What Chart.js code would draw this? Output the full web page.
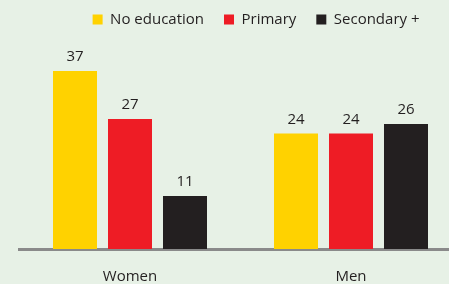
<!DOCTYPE html>
<html>
<head>
<meta charset="utf-8">
<script src="https://cdn.jsdelivr.net/npm/chart.js@4/dist/chart.umd.min.js"></script>
<style>
  html, body { margin: 0; padding: 0; background: #e7f1e6; overflow: hidden; width: 449px; height: 284px; }
  #wrap { width: 462px; height: 297px; position: relative; }
</style>
</head>
<body>
<div id="wrap"><canvas id="c" width="462" height="297"></canvas></div>
<script>
const categories = ['Women', 'Men'];
const seriesNames = ['No education', 'Primary', 'Secondary +'];
const noEducation = [37, 24];
const primary = [27, 24];
const secondaryPlus = [11, 26];
const colors = ['#ffd200', '#ee1c25', '#231f20'];

const textColor = '#231f20';
const fontFamily = '"Open Sans", sans-serif';

const valueLabels = {
  id: 'valueLabels',
  afterDatasetsDraw(chart) {
    const ctx = chart.ctx;
    ctx.save();
    ctx.font = '15px ' + fontFamily;
    ctx.fillStyle = textColor;
    ctx.textAlign = 'center';
    ctx.textBaseline = 'middle';
    chart.data.datasets.forEach((ds, i) => {
      const meta = chart.getDatasetMeta(i);
      meta.data.forEach((bar, j) => {
        ctx.fillText(String(ds.data[j]), bar.x, bar.y - 14);
      });
    });
    ctx.restore();
  }
};

const legendShift = {
  id: 'legendShift',
  afterLayout(chart) {
    const lg = chart.legend;
    if (!lg) return;
    lg.right -= 22;
    lg.top -= 8;
    lg.bottom -= 8;
  }
};

new Chart(document.getElementById('c'), {
  type: 'bar',
  data: {
    labels: categories,
    datasets: [
      { label: seriesNames[0], data: noEducation, backgroundColor: colors[0] },
      { label: seriesNames[1], data: primary, backgroundColor: colors[1] },
      { label: seriesNames[2], data: secondaryPlus, backgroundColor: colors[2] }
    ]
  },
  options: {
    responsive: false,
    animation: false,
    devicePixelRatio: 1,
    layout: { padding: { left: 19.5, right: 0.5, top: 0, bottom: 0 } },
    datasets: { bar: { categoryPercentage: 0.7466, barPercentage: 0.8 } },
    plugins: {
      legend: {
        position: 'top',
        align: 'end',
        labels: {
          boxWidth: 10,
          boxHeight: 10,
          padding: 20,
          color: textColor,
          font: { family: fontFamily, size: 15 }
        }
      },
      tooltip: { enabled: false }
    },
    scales: {
      x: {
        grid: { display: false },
        border: { display: true, color: '#8a8a8a', width: 3 },
        ticks: { color: textColor, padding: 11, font: { family: fontFamily, size: 15, lineHeight: 1.2 } }
      },
      y: {
        display: false,
        min: 0,
        max: 42.4
      }
    }
  },
  plugins: [valueLabels, legendShift]
});
</script>
</body>
</html>
